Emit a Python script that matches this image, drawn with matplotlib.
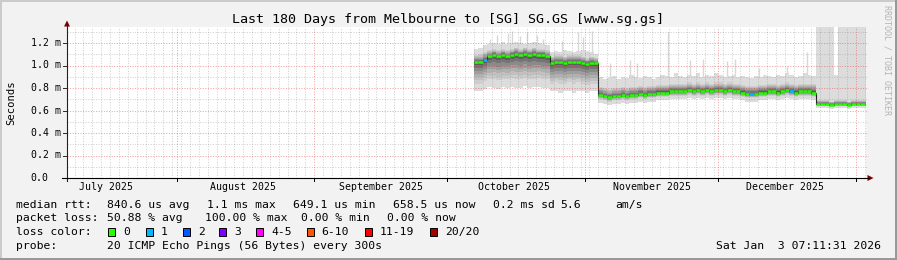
import datetime as dt
import numpy as np
import matplotlib
matplotlib.use("Agg")
import matplotlib.pyplot as plt
import matplotlib.dates as mdates
from matplotlib.patches import Rectangle, Polygon
from matplotlib.lines import Line2D

# ---------------- texts ----------------
title = "Last 180 Days from Melbourne to [SG] SG.GS [www.sg.gs]"
y_label = "Seconds"
watermark = "RRDTOOL / TOBI OETIKER"
y_ticks = [0.0, 0.2, 0.4, 0.6, 0.8, 1.0, 1.2]
y_tick_labels = ["0.0", "0.2 m", "0.4 m", "0.6 m", "0.8 m", "1.0 m", "1.2 m"]
y_minor = [0.1, 0.3, 0.5, 0.7, 0.9, 1.1, 1.3]
month_labels = ["July 2025", "August 2025", "September 2025",
                "October 2025", "November 2025", "December 2025"]
month_label_dates = ["2025-07-16", "2025-08-16", "2025-09-16",
                     "2025-10-16", "2025-11-16", "2025-12-16"]
month_starts = ["2025-08-01", "2025-09-01", "2025-10-01",
                "2025-11-01", "2025-12-01", "2026-01-01"]
t_start = "2025-07-07 07:11:31"
t_end = "2026-01-03 07:11:31"
data_start = "2025-10-07"

# ---------------- data (ms, one value per day from data_start) ----------------
median_ms = [1.03, 1.03, 1.05, 1.08, 1.09, 1.08, 1.09, 1.08, 1.09, 1.10, 1.09, 1.10, 1.09, 1.10, 1.09, 1.09, 1.08,
             1.02, 1.03, 1.03, 1.02, 1.03, 1.03, 1.03, 1.02, 1.01, 1.02, 1.02,
             0.74, 0.73, 0.72, 0.73, 0.73, 0.74, 0.73, 0.74, 0.74, 0.75,
             0.74, 0.75, 0.75, 0.76, 0.76, 0.76, 0.77, 0.77, 0.77, 0.77,
             0.78, 0.77, 0.78, 0.77, 0.78, 0.77, 0.78, 0.78, 0.77, 0.78,
             0.77, 0.77, 0.76, 0.75, 0.75, 0.75, 0.76, 0.76, 0.77, 0.77,
             0.76, 0.77, 0.78, 0.77, 0.76, 0.77, 0.77, 0.77, 0.76,
             0.66, 0.66, 0.66, 0.65, 0.66, 0.66, 0.66, 0.65, 0.66, 0.66, 0.66, 0.66]
ping_min = [0.77, 0.77, 0.79, 0.81, 0.80, 0.79, 0.81, 0.80, 0.81, 0.80, 0.80, 0.82, 0.80, 0.81, 0.81, 0.80, 0.80,
            0.77, 0.77, 0.76, 0.77, 0.77, 0.76, 0.77, 0.77, 0.76, 0.77, 0.77,
            0.67, 0.66, 0.65, 0.66, 0.66, 0.67, 0.66, 0.67, 0.67, 0.68,
            0.67, 0.68, 0.68, 0.69, 0.69, 0.69, 0.70, 0.70, 0.70, 0.70,
            0.71, 0.70, 0.71, 0.70, 0.71, 0.70, 0.71, 0.71, 0.70, 0.71,
            0.70, 0.70, 0.69, 0.68, 0.68, 0.68, 0.69, 0.69, 0.70, 0.70,
            0.69, 0.70, 0.71, 0.70, 0.69, 0.70, 0.70, 0.70, 0.69,
            0.62, 0.62, 0.62, 0.61, 0.62, 0.62, 0.62, 0.61, 0.62, 0.62, 0.62, 0.62]
ping_lo = [0.84, 0.84, 0.86, 0.88, 0.88, 0.87, 0.88, 0.88, 0.89, 0.88, 0.88, 0.89, 0.88, 0.88, 0.89, 0.88, 0.88,
           0.84, 0.85, 0.84, 0.84, 0.85, 0.84, 0.85, 0.84, 0.83, 0.84, 0.84,
           0.70, 0.69, 0.68, 0.69, 0.69, 0.70, 0.69, 0.70, 0.70, 0.71,
           0.70, 0.71, 0.71, 0.72, 0.72, 0.72, 0.73, 0.73, 0.73, 0.73,
           0.74, 0.73, 0.74, 0.73, 0.74, 0.73, 0.74, 0.74, 0.73, 0.74,
           0.73, 0.73, 0.72, 0.71, 0.71, 0.71, 0.72, 0.72, 0.73, 0.73,
           0.72, 0.73, 0.74, 0.73, 0.72, 0.73, 0.73, 0.73, 0.72,
           0.64, 0.64, 0.64, 0.63, 0.64, 0.64, 0.64, 0.63, 0.64, 0.64, 0.64, 0.64]
ping_hi = [1.09, 1.10, 1.12, 1.14, 1.15, 1.14, 1.15, 1.14, 1.15, 1.16, 1.15, 1.16, 1.15, 1.16, 1.15, 1.15, 1.14,
           1.08, 1.09, 1.09, 1.08, 1.09, 1.09, 1.09, 1.08, 1.07, 1.08, 1.07,
           0.81, 0.80, 0.79, 0.80, 0.80, 0.81, 0.80, 0.81, 0.81, 0.82,
           0.81, 0.82, 0.82, 0.83, 0.83, 0.83, 0.84, 0.84, 0.84, 0.84,
           0.85, 0.84, 0.85, 0.84, 0.85, 0.84, 0.85, 0.85, 0.84, 0.85,
           0.84, 0.84, 0.83, 0.82, 0.82, 0.82, 0.83, 0.83, 0.84, 0.84,
           0.83, 0.84, 0.85, 0.84, 0.83, 0.84, 0.84, 0.84, 0.84,
           0.69, 0.69, 0.69, 0.68, 0.69, 0.69, 0.69, 0.68, 0.69, 0.69, 0.69, 0.69]
ping_max = [1.15, 1.16, 1.18, 1.19, 1.20, 1.19, 1.21, 1.19, 1.20, 1.21, 1.20, 1.19, 1.20, 1.21, 1.20, 1.19, 1.18,
            1.12, 1.13, 1.12, 1.14, 1.13, 1.12, 1.13, 1.14, 1.13, 1.12, 1.10,
            0.90, 0.88, 0.89, 0.91, 0.88, 0.90, 0.89, 0.92, 0.90, 0.89,
            0.91, 0.90, 0.88, 0.90, 0.92, 0.91, 0.90, 0.93, 0.91, 0.90,
            0.92, 0.91, 0.93, 0.90, 0.92, 0.91, 0.93, 0.92, 0.90, 0.91,
            0.92, 0.90, 0.91, 0.90, 0.89, 0.91, 0.90, 0.92, 0.91, 0.90,
            0.92, 0.91, 0.93, 0.92, 0.90, 0.91, 0.93, 0.92, 0.91,
            1.60, 1.60, 1.60, 1.60, 0.92, 1.60, 1.60, 1.60, 1.60, 1.60, 1.60, 1.60]
loss_count = [0, 0, 1, 0, 0, 0, 0, 0, 0, 0, 0, 0, 0, 0, 0, 0, 0,
              0, 0, 0, 0, 0, 0, 0, 0, 0, 0, 0,
              0, 0, 0, 0, 0, 0, 0, 0, 0, 0,
              0, 0, 0, 0, 0, 0, 0, 0, 0, 0,
              0, 0, 0, 0, 0, 0, 0, 0, 0, 0,
              0, 0, 0, 0, 1, 0, 0, 0, 0, 0,
              0, 0, 0, 1, 0, 0, 0, 0, 0,
              0, 0, 0, 0, 0, 0, 0, 0, 0, 0, 0, 0]
spike_times = ["2025-10-10 14:00", "2025-10-12 05:00", "2025-10-14 15:00", "2025-10-15 12:00",
               "2025-10-17 07:00", "2025-10-18 22:00", "2025-10-21 04:00", "2025-10-22 12:00",
               "2025-10-26 19:00", "2025-10-30 10:00", "2025-10-31 12:00", "2025-11-02 12:00",
               "2025-11-06 14:00", "2025-11-11 02:00", "2025-11-12 15:00", "2025-11-19 14:00",
               "2025-11-24 14:00", "2025-11-27 12:00", "2025-12-02 22:00", "2025-12-04 17:00",
               "2025-12-10 07:00", "2025-12-16 14:00", "2025-12-21 02:00"]
spike_values = [1.24, 1.27, 1.29, 1.31, 1.26, 1.30, 1.27, 1.24,
                1.22, 1.30, 1.25, 1.31,
                1.02, 1.05, 1.02, 1.30,
                1.05, 1.06, 1.04, 1.06,
                0.98, 1.00, 1.12]

# legend
legend_rows = [
    [("median rtt:", 16), ("840.6 us avg", 107.3), ("1.1 ms max", 207), ("649.1 us min", 292.7),
     ("658.5 us now", 393.3), ("0.2 ms sd", 493.3), ("5.6", 560), ("am/s", 615)],
    [("packet loss:", 16), ("50.88 % avg", 107.3), ("100.00 % max", 205),
     ("0.00 % min", 301), ("0.00 % now", 386.5)],
]
loss_labels = ["0", "1", "2", "3", "4-5", "6-10", "11-19", "20/20"]
loss_colors = ["#26ff00", "#00b8ff", "#0059ff", "#7e00ff", "#ff00ff", "#ff5500", "#ff0000", "#a10000"]
probe_text = "20 ICMP Echo Pings (56 Bytes) every 300s"
stamp_text = "Sat Jan  3 07:11:31 2026"

# ---------------- layout ----------------
W, H = 897, 260
FONT = "DejaVu Sans Mono"
BG = "#f2f2f2"
L, R, T, B = 67, 866, 27, 178
PX_PER_UNIT = 112.5
LEG_FS = 8.2

fig = plt.figure(figsize=(W / 100, H / 100), dpi=100)
fig.patch.set_facecolor(BG)


def fx(px):
    return px / W


def fy(py):
    return 1 - py / H


ax = fig.add_axes([fx(L), fy(B), (R - L) / W, (B - T) / H])
ax.set_facecolor("white")
for s in ax.spines.values():
    s.set_visible(False)
ax.set_xticks([])
ax.set_yticks([])

d = lambda s: mdates.date2num(np.datetime64(s))
t0, t1 = d(t_start), d(t_end)
ymax = (B - T) / PX_PER_UNIT
ax.set_xlim(t0, t1)
ax.set_ylim(0, ymax)
day_per_px = (t1 - t0) / (R - L)

# ---------------- smoke ----------------
n = len(median_ms)
edges = np.array([d(data_start) + i for i in range(n)] + [t1])
ext = lambda a: np.append(np.asarray(a, float), a[-1])
med = ext(median_ms)
pmin, plo, phi, pmax = ext(ping_min), ext(ping_lo), ext(ping_hi), ext(ping_max)

ax.fill_between(edges, pmin, pmax, step="post", color="#dcdcdc", lw=0, zorder=1)
greys = ["#cecece", "#c0c0c0", "#b0b0b0", "#9e9e9e", "#8a8a8a", "#747474", "#5e5e5e"]
for k, g in enumerate(greys):
    f = k / len(greys)
    lo_k = plo + (med - plo) * f
    hi_k = phi - (phi - med) * f
    ax.fill_between(edges, lo_k, hi_k, step="post", color=g, lw=0, zorder=2)

# thin spikes of the max ping
for st, sv in zip(spike_times, spike_values):
    xs = d(st)
    i = int(np.clip(np.searchsorted(edges, xs) - 1, 0, n - 1))
    ax.plot([xs, xs], [ping_max[i], sv], color="#d8d8d8", lw=1.0, zorder=1,
            solid_capstyle="butt")

# median line
ax.step(edges, med, where="post", color="#202020", lw=0.8, zorder=3)
for i in range(n):
    ax.plot([edges[i], edges[i + 1]], [median_ms[i], median_ms[i]],
            color=loss_colors[loss_count[i]], lw=1.8, solid_capstyle="butt", zorder=4)

# ---------------- grid ----------------
minor_c = (0.55, 0.55, 0.55, 0.42)
major_c = (0.9, 0.1, 0.1, 0.42)
dots = (0, (1, 1.6))
ms_nums = [d(m) for m in month_starts]
g = d("2025-07-09")
while g < t1:
    if min(abs(g - m) for m in ms_nums) > 0.3:
        ax.plot([g, g], [0, ymax], color=minor_c, lw=0.72, ls=dots, zorder=6)
    g += 2
for m in ms_nums:
    if m < t1:
        ax.plot([m, m], [0, ymax], color=major_c, lw=0.72, ls=dots, zorder=6)
        ax.plot([m, m], [0, -2.5 / PX_PER_UNIT], color="black", lw=0.72, zorder=7, clip_on=False)
xr = t1 + 2 * day_per_px
for yv in y_minor:
    if yv < ymax:
        ax.plot([t0, xr], [yv, yv], color=minor_c, lw=0.72, ls=dots, zorder=6, clip_on=False)
for yv in y_ticks[1:]:
    ax.plot([t0, xr], [yv, yv], color=major_c, lw=0.72, ls=dots, zorder=6, clip_on=False)
for yv in y_ticks:
    ax.plot([t0 - 4 * day_per_px, t0], [yv, yv], color="#303030", lw=0.72, zorder=7, clip_on=False)

# ---------------- axes lines and arrows ----------------
fig.add_artist(Line2D([fx(L), fx(L)], [fy(B + 3), fy(24)], color="#202020", lw=0.8))
fig.add_artist(Line2D([fx(L - 5), fx(869)], [fy(B), fy(B)], color="black", lw=0.8))
fig.add_artist(Polygon([[fx(L - 3), fy(26.5)], [fx(L + 3), fy(26.5)], [fx(L), fy(20.5)]],
                       closed=True, color="#800000", lw=0))
fig.add_artist(Polygon([[fx(867.5), fy(B - 3)], [fx(867.5), fy(B + 3)], [fx(873.5), fy(B)]],
                       closed=True, color="#800000", lw=0))

# ---------------- labels ----------------
fig.text(fx(448), fy(19), title, family=FONT, fontsize=9.6, ha="center", va="center")
fig.text(fx(11), fy(102.5), y_label, family=FONT, fontsize=7.6, ha="center", va="center",
         rotation=90)
fig.text(fx(887), fy(60), watermark, family=FONT, fontsize=6.0, ha="center", va="center",
         rotation=270, color="#b4b4b4")
for yv, lab in zip(y_ticks, y_tick_labels):
    fig.text(fx(30.7), fy(B - yv * PX_PER_UNIT), lab, family=FONT, fontsize=7.1,
             ha="left", va="center")
for md, lab in zip(month_label_dates, month_labels):
    xp = L + (d(md) - t0) / day_per_px
    fig.text(fx(xp), fy(187.5), lab, family=FONT, fontsize=7.1, ha="center", va="center")

row_y = [204.7, 218.3, 232.0, 245.7]
for r, row in enumerate(legend_rows):
    for txt, xp in row:
        fig.text(fx(xp), fy(row_y[r]), txt, family=FONT, fontsize=LEG_FS, ha="left", va="center")
fig.text(fx(16), fy(row_y[2]), "loss color:", family=FONT, fontsize=LEG_FS, ha="left", va="center")
sq_x = [108.3, 145.7, 182.7, 219.0, 256.0, 306.7, 365.0, 430.0]
for xp, c, lab in zip(sq_x, loss_colors, loss_labels):
    fig.add_artist(Rectangle((fx(xp), fy(236.2)), 7 / W, 8 / H, facecolor=c,
                             edgecolor="black", lw=0.7))
    fig.text(fx(xp + 15), fy(row_y[2]), lab, family=FONT, fontsize=LEG_FS, ha="left", va="center")
fig.text(fx(16), fy(row_y[3]), "probe:", family=FONT, fontsize=LEG_FS, ha="left", va="center")
fig.text(fx(107.3), fy(row_y[3]), probe_text, family=FONT, fontsize=LEG_FS, ha="left", va="center")
fig.text(fx(881), fy(row_y[3]), stamp_text, family=FONT, fontsize=LEG_FS, ha="right", va="center")

# ---------------- frame ----------------
fig.add_artist(Rectangle((0, fy(2)), 1, 2 / H, color="#cbcbcb", lw=0))
fig.add_artist(Rectangle((0, 0), 2 / W, 1, color="#cbcbcb", lw=0))
fig.add_artist(Rectangle((0, 0), 1, 2 / H, color="#999999", lw=0))
fig.add_artist(Rectangle((fx(W - 2), 0), 2 / W, 1, color="#999999", lw=0))

fig.savefig("out.png", dpi=100, facecolor=BG)
